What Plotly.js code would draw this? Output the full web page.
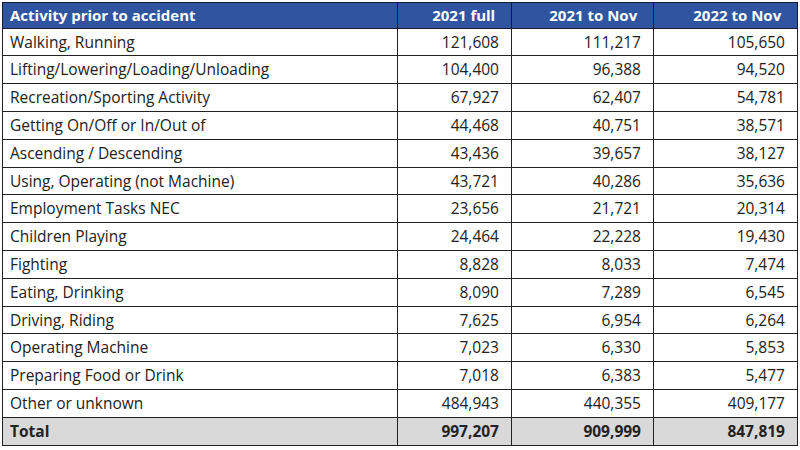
<!DOCTYPE html>
<html>
<head>
<meta charset="utf-8">
<script src="https://cdn.plot.ly/plotly-3.0.1.min.js"></script>
<style>html,body{margin:0;padding:0;background:#fff;}#graph1{width:800px;height:450px;}</style>
</head>
<body>
<div id="graph1"></div>
<script>
(function() {
  // Table data
  const headers = ['Activity prior to accident', '2021 full', '2021 to Nov', '2022 to Nov'];
  const activities = ['Walking, Running', 'Lifting/Lowering/Loading/Unloading', 'Recreation/Sporting Activity',
    'Getting On/Off or In/Out of', 'Ascending / Descending', 'Using, Operating (not Machine)',
    'Employment Tasks NEC', 'Children Playing', 'Fighting', 'Eating, Drinking', 'Driving, Riding',
    'Operating Machine', 'Preparing Food or Drink', 'Other or unknown'];
  const full2021 = [121608, 104400, 67927, 44468, 43436, 43721, 23656, 24464, 8828, 8090, 7625, 7023, 7018, 484943];
  const nov2021 = [111217, 96388, 62407, 40751, 39657, 40286, 21721, 22228, 8033, 7289, 6954, 6330, 6383, 440355];
  const nov2022 = [105650, 94520, 54781, 38571, 38127, 35636, 20314, 19430, 7474, 6545, 6264, 5853, 5477, 409177];
  const totalLabel = 'Total';
  const totals = [997207, 909999, 847819];

  const fmt = v => v.toLocaleString('en-US');

  const col1 = activities.concat([totalLabel]);
  const col2 = full2021.map(fmt).concat([fmt(totals[0])]);
  const col3 = nov2021.map(fmt).concat([fmt(totals[1])]);
  const col4 = nov2022.map(fmt).concat([fmt(totals[2])]);

  const nRows = col1.length;
  const rowFill = Array.from({length: nRows}, (_, i) => i === nRows - 1 ? '#d9d9d9' : '#ffffff');
  const rowWeight = Array.from({length: nRows}, (_, i) => i === nRows - 1 ? 'bold' : 'normal');

  const trace = {
    type: 'table',
    columnwidth: [395, 114, 142, 144],
    header: {
      values: headers,
      align: ['left', 'right', 'right', 'right'],
      suffix: ['', '\u00a0', '\u00a0', '\u00a0'],
      fill: {color: '#2f55a0'},
      line: {color: '#1a1a2e', width: 1},
      font: {family: 'Open Sans, Arial', size: 15, color: '#ffffff', weight: 'bold'},
      height: 26
    },
    cells: {
      values: [col1, col2, col3, col4],
      align: ['left', 'right', 'right', 'right'],
      suffix: ['', '\u00a0', '\u00a0', '\u00a0'],
      fill: {color: [rowFill, rowFill, rowFill, rowFill]},
      line: {color: '#222222', width: 1},
      font: {family: 'Open Sans, Arial', size: 15.5, color: '#222222',
             weight: [rowWeight, rowWeight, rowWeight, rowWeight]},
      height: 27.8
    }
  };

  const layout = {
    width: 800,
    height: 450,
    margin: {l: 2, r: 3, t: 2, b: 0},
    paper_bgcolor: '#ffffff'
  };

  Plotly.newPlot('graph1', [trace], layout, {displayModeBar: false});
})();
</script>
</body>
</html>
